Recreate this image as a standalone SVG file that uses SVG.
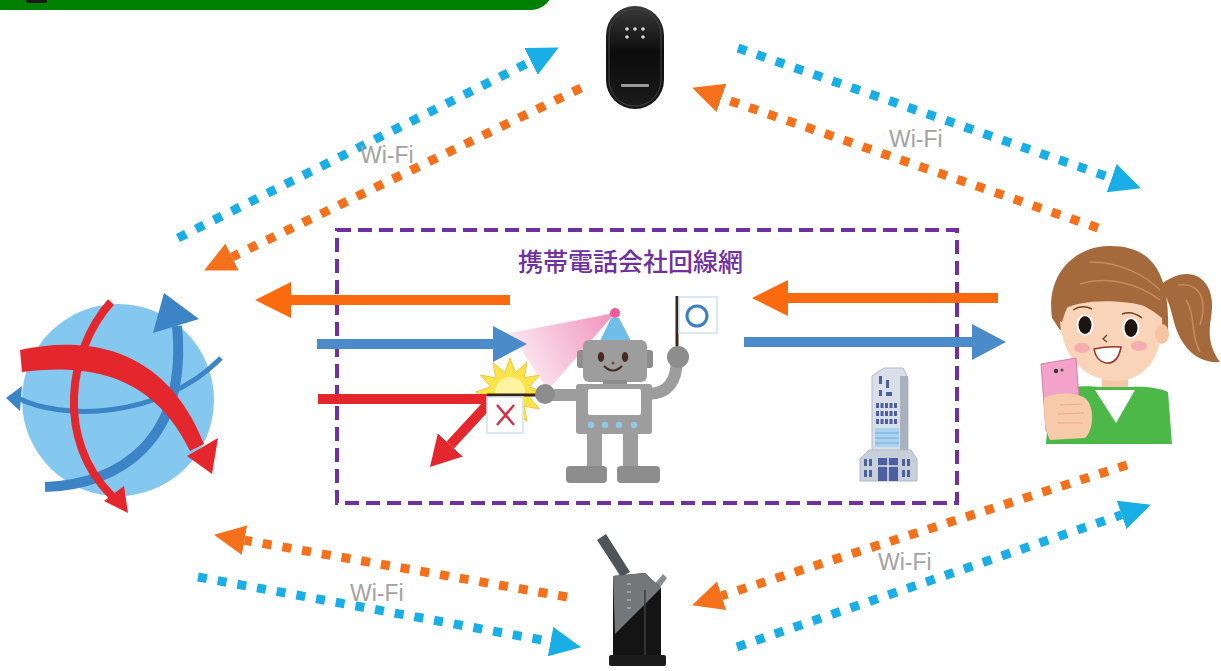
<svg xmlns="http://www.w3.org/2000/svg" width="1221" height="671" viewBox="0 0 1221 671">
<defs>
<style>
.dot-b{fill:none;stroke:#19aee6;stroke-width:9;stroke-dasharray:9 11}
.dot-o{fill:none;stroke:#f5701a;stroke-width:9;stroke-dasharray:9 11}
.wifi{font-family:"Liberation Sans",Arial,sans-serif;font-size:23px;fill:#a3a3a3}
.sol-o{fill:none;stroke:#fb6a0e;stroke-width:10}
.sol-b{fill:none;stroke:#4b8bca;stroke-width:10}
.sol-r{fill:none;stroke:#e4262d;stroke-width:10}
.title{font-family:"Noto Sans CJK JP","Noto Sans CJK SC",sans-serif;font-size:25px;font-weight:500;fill:#7030a0}
.bot{fill:#9d9d9d}
.bot-d{fill:#8d8d8d}
.win{fill:#4e5fa0}
</style>
<marker id="hb" markerUnits="userSpaceOnUse" viewBox="0 0 32 30" markerWidth="32" markerHeight="30" refX="0" refY="15" orient="auto"><path d="M0,0 L31,15 L0,30 z" fill="#19aee6"/></marker>
<marker id="ho" markerUnits="userSpaceOnUse" viewBox="0 0 32 30" markerWidth="32" markerHeight="30" refX="0" refY="15" orient="auto"><path d="M0,0 L31,15 L0,30 z" fill="#f5701a"/></marker>
<marker id="so" markerUnits="userSpaceOnUse" viewBox="0 0 36 36" markerWidth="36" markerHeight="36" refX="0" refY="18" orient="auto"><path d="M0,0 L36,18 L0,36 z" fill="#fb6a0e"/></marker>
<marker id="sb" markerUnits="userSpaceOnUse" viewBox="0 0 34 36" markerWidth="34" markerHeight="36" refX="0" refY="18" orient="auto"><path d="M0,0 L34,18 L0,36 z" fill="#4b8bca"/></marker>
<marker id="sr" markerUnits="userSpaceOnUse" viewBox="0 0 30 34" markerWidth="30" markerHeight="34" refX="0" refY="17" orient="auto"><path d="M0,0 L30,17 L0,34 z" fill="#e4262d"/></marker>
<linearGradient id="beam" x1="615" y1="313" x2="520" y2="360" gradientUnits="userSpaceOnUse">
<stop offset="0" stop-color="#ef86b4"/><stop offset="1" stop-color="#fbe3ee"/>
</linearGradient>
<linearGradient id="gloss" x1="0" y1="0" x2="0" y2="1">
<stop offset="0" stop-color="#3a3a3a"/><stop offset="0.45" stop-color="#0c0c0c"/><stop offset="1" stop-color="#1b1b1b"/>
</linearGradient>
</defs>
<rect width="1221" height="671" fill="#fff"/>

<!-- header band -->
<g id="header">
<rect x="-30" y="-40" width="583" height="50" rx="22" fill="#008000"/>
<rect x="26" y="-5" width="21" height="8" rx="2" fill="#1a1a1a"/>
</g>

<!-- carrier network frame -->
<g id="carrier-network">
<rect x="337" y="230" width="620" height="273" fill="none" stroke="#7030a0" stroke-width="4" stroke-dasharray="14 7"/>
<text class="title" x="518" y="271">携帯電話会社回線網</text>
</g>

<!-- internet globe -->
<g id="internet">
<circle cx="118" cy="400" r="96" fill="#85c8ef"/>
<path d="M45,487 C120,485 188,440 177,326" fill="none" stroke="#3c84c6" stroke-width="10"/>
<polygon points="164,293 153,333 199,319" fill="#3c84c6"/>
<path d="M18,398 C60,420 160,420 221,358" fill="none" stroke="#3c84c6" stroke-width="5"/>
<polygon points="6,398 22,386 20,411" fill="#3c84c6"/>
<path d="M20,350 C85,336 165,345 204,444 L190,451 C152,372 85,364 22,372 Z" fill="#e4262d"/>
<polygon points="212,474 187,456 218,438" fill="#e4262d"/>
<path d="M111,302 C68,350 55,440 112,496" fill="none" stroke="#e4262d" stroke-width="8"/>
<polygon points="128,513 104,501 124,486" fill="#e4262d"/>
</g>

<!-- pocket router -->
<g id="pocket-wifi">
<rect x="606" y="6" width="58" height="103" rx="29" fill="url(#gloss)"/>
<rect x="609" y="9" width="52" height="97" rx="26" fill="none" stroke="#444" stroke-width="1"/>
<g fill="#d8d8d8">
<circle cx="627" cy="29" r="1.8"/><circle cx="635" cy="29" r="1.8"/><circle cx="643" cy="29" r="1.8"/>
<circle cx="627" cy="37" r="1.8"/><circle cx="643" cy="37" r="1.8"/>
</g>
<rect x="621" y="84" width="28" height="3" rx="1" fill="#9a9a9a"/>
</g>

<!-- home router -->
<g id="home-router">
<polygon points="597,540 606,534 630,572 621,577" fill="#4f5458"/>
<polygon points="650,589 663,574 667,578 656,593" fill="#8a8d90"/>
<polygon points="613,576 645,573 661,588 661,657 613,657" fill="#141414"/>
<polygon points="613,576 645,573 661,588 615,634" fill="#74777a"/>
<line x1="645" y1="590" x2="645" y2="657" stroke="#3c3c3c" stroke-width="1.5"/>
<g stroke="#b8b8b8" stroke-width="1.2">
<line x1="627" y1="584" x2="631" y2="584"/><line x1="627" y1="592" x2="631" y2="592"/>
<line x1="627" y1="600" x2="631" y2="600"/><line x1="627" y1="608" x2="631" y2="608"/>
</g>
<rect x="609" y="655" width="57" height="11" rx="2" fill="#1c1c1c"/>
</g>

<!-- connectors -->
<g id="connectors">
<line class="dot-b" x1="178" y1="238" x2="531" y2="61.4" marker-end="url(#hb)"/>
<line class="dot-o" x1="581" y1="88" x2="232" y2="257" marker-end="url(#ho)"/>
<line class="dot-b" x1="738" y1="48" x2="1111.7" y2="178.1" marker-end="url(#hb)"/>
<line class="dot-o" x1="1098" y1="228" x2="721.4" y2="97.8" marker-end="url(#ho)"/>
<line class="dot-o" x1="567" y1="597" x2="244.5" y2="540.2" marker-end="url(#ho)"/>
<line class="dot-b" x1="198" y1="577" x2="550.5" y2="641.6" marker-end="url(#hb)"/>
<line class="dot-o" x1="1127" y1="465" x2="721.6" y2="595.8" marker-end="url(#ho)"/>
<line class="dot-b" x1="737" y1="647" x2="1121.6" y2="514.8" marker-end="url(#hb)"/>
</g>
<g id="labels">
<text class="wifi" x="360" y="163">Wi-Fi</text>
<text class="wifi" x="889" y="147">Wi-Fi</text>
<text class="wifi" x="350" y="601">Wi-Fi</text>
<text class="wifi" x="878" y="570">Wi-Fi</text>
</g>

<!-- filter robot -->
<g id="robot">
<polygon points="615,313 510,333 548,390" fill="url(#beam)" opacity="0.9"/>
<g id="network-arrows">
<line class="sol-o" x1="510" y1="300" x2="291" y2="300" marker-end="url(#so)"/>
<line class="sol-b" x1="317" y1="344" x2="493" y2="344" marker-end="url(#sb)"/>
<line class="sol-o" x1="998" y1="298" x2="788" y2="298" marker-end="url(#so)"/>
<line class="sol-b" x1="744" y1="342" x2="972" y2="342" marker-end="url(#sb)"/>
</g>
<polygon points="544,392 529.3,397.2 539.4,409 524.1,406.1 527,421.4 515.2,411.3 510,426 504.8,411.3 493,421.4 495.9,406.1 480.6,409 490.7,397.2 476,392 490.7,386.8 480.6,375 495.9,377.9 493,362.6 504.8,372.7 510,358 515.2,372.7 527,362.6 524.1,377.9 539.4,375 529.3,386.8" fill="#fbe44a" stroke="#f3c53a" stroke-width="1"/>
<circle cx="510" cy="392" r="15" fill="#fdf3a0"/>
<line class="sol-r" x1="318" y1="399" x2="492" y2="399"/>
<line class="sol-r" x1="490" y1="402" x2="450.3" y2="445" marker-end="url(#sr)"/>
<line x1="487" y1="395" x2="542" y2="395" stroke="#3a2418" stroke-width="3"/>
<rect x="487" y="397" width="36" height="36" fill="#fff" stroke="#cfe3ee" stroke-width="1.5"/>
<g stroke="#d03048" stroke-width="2.5"><line x1="497" y1="405" x2="514" y2="425"/><line x1="514" y1="405" x2="497" y2="425"/></g>
<circle cx="615" cy="313" r="5" fill="#ee5a9a"/>
<polygon points="611,318 619,318 631,341 600,341" fill="#6fbde9"/>
<rect x="577" y="350" width="9" height="18" rx="3" class="bot-d"/>
<rect x="644" y="350" width="9" height="18" rx="3" class="bot-d"/>
<rect x="583" y="340" width="64" height="42" rx="6" class="bot"/>
<ellipse cx="601" cy="357" rx="3.2" ry="5" fill="#4a2b20"/>
<ellipse cx="625" cy="357" rx="3.2" ry="5" fill="#4a2b20"/>
<circle cx="613" cy="363" r="1.5" fill="#6a4a40"/>
<path d="M604,366 Q613,375 622,366" fill="none" stroke="#4a2b20" stroke-width="2"/>
<rect x="603" y="380" width="24" height="6" class="bot-d"/>
<rect x="587" y="432" width="15" height="37" class="bot"/>
<rect x="623" y="432" width="15" height="37" class="bot"/>
<rect x="566" y="466" width="41" height="17" rx="4" class="bot-d"/>
<rect x="617" y="466" width="43" height="17" rx="4" class="bot-d"/>
<rect x="576" y="384" width="76" height="50" rx="3" class="bot"/>
<rect x="588" y="389" width="53" height="26" rx="2" fill="#fff"/>
<g fill="#8fc8e8"><circle cx="591" cy="425" r="3.2"/><circle cx="605" cy="425" r="3.2"/><circle cx="619" cy="425" r="3.2"/><circle cx="634" cy="425" r="3.2"/></g>
<line x1="545" y1="395" x2="580" y2="395" stroke="#9d9d9d" stroke-width="12"/>
<circle cx="545" cy="394" r="10" class="bot-d"/>
<path d="M648,394 Q677,394 677,358" fill="none" stroke="#9d9d9d" stroke-width="12"/>
<line x1="677" y1="296" x2="677" y2="352" stroke="#3a2418" stroke-width="3"/>
<rect x="679" y="297" width="38" height="36" fill="#fff" stroke="#cfe3ee" stroke-width="1.5"/>
<circle cx="697" cy="316" r="10" fill="none" stroke="#3a80c4" stroke-width="3"/>
<circle cx="678" cy="357" r="11" class="bot-d"/>
</g>

<!-- carrier office building -->
<g id="building">
<polygon points="872,452 872,376 884,368 903,368 908,378 908,452" fill="#d9dfe8" stroke="#b3bccb" stroke-width="1"/>
<rect x="900" y="376" width="8" height="76" fill="#a9b1bd"/>
<g class="win">
<rect x="879" y="376" width="3" height="8"/><rect x="886" y="380" width="3" height="8"/><rect x="879" y="390" width="3" height="6"/><rect x="886" y="392" width="6" height="4"/>
<rect x="876" y="403" width="3" height="5"/><rect x="880.5" y="403" width="3" height="5"/><rect x="885" y="403" width="3" height="5"/><rect x="889.5" y="403" width="3" height="5"/><rect x="894" y="403" width="3" height="5"/>
<rect x="876" y="411" width="3" height="5"/><rect x="880.5" y="411" width="3" height="5"/><rect x="885" y="411" width="3" height="5"/><rect x="889.5" y="411" width="3" height="5"/><rect x="894" y="411" width="3" height="5"/>
<rect x="876" y="419" width="3" height="5"/><rect x="880.5" y="419" width="3" height="5"/><rect x="885" y="419" width="3" height="5"/><rect x="889.5" y="419" width="3" height="5"/><rect x="894" y="419" width="3" height="5"/>
</g>
<rect x="875" y="428" width="24" height="19" fill="#a8d2f0"/>
<g stroke="#6d9fd0" stroke-width="0.8"><line x1="875" y1="433" x2="899" y2="433"/><line x1="875" y1="438" x2="899" y2="438"/><line x1="875" y1="443" x2="899" y2="443"/></g>
<polygon points="860,481 860,459 869,450 911,450 917,459 917,481" fill="#c7cfda" stroke="#b0b9c6" stroke-width="1"/>
<g class="win">
<rect x="864" y="459" width="3" height="7"/><rect x="869" y="459" width="3" height="7"/><rect x="864" y="470" width="3" height="7"/><rect x="869" y="470" width="3" height="7"/>
<rect x="902" y="459" width="3" height="7"/><rect x="907" y="459" width="3" height="7"/><rect x="902" y="470" width="3" height="7"/><rect x="907" y="470" width="3" height="7"/>
<rect x="878" y="458" width="20" height="23"/>
</g>
<g stroke="#fff" stroke-width="1.2"><line x1="888" y1="458" x2="888" y2="481"/><line x1="878" y1="466" x2="898" y2="466"/></g>
</g>

<!-- user with smartphone -->
<g id="user">
<path d="M1163,283 C1192,262 1218,280 1211,318 C1207,340 1213,352 1220,362 C1196,364 1180,345 1174,322 C1170,305 1166,296 1163,290 Z" fill="#a46a3c"/>
<path d="M1178,285 C1200,282 1208,300 1200,325 M1186,300 C1196,315 1190,335 1200,352" fill="none" stroke="#c58b5a" stroke-width="1.5"/>
<path d="M1052,318 C1045,270 1080,245 1110,246 C1150,246 1170,270 1168,330 L1060,330 Z" fill="#a46a3c"/>
<rect x="1102" y="370" width="26" height="24" fill="#f6c7a6"/>
<path d="M1050,392 C1070,385 1090,386 1100,387 L1130,387 C1145,386 1160,388 1168,392 L1172,444 L1046,444 Z" fill="#4cb848"/>
<polygon points="1095,390 1135,390 1116,423" fill="#fff"/>
<path d="M1060,312 C1058,350 1080,380 1115,381 C1150,381 1164,350 1162,315 C1150,300 1080,295 1060,312 Z" fill="#fad4b8"/>
<ellipse cx="1162" cy="334" rx="7" ry="10" fill="#f6c4a2"/>
<path d="M1056,320 C1058,285 1078,258 1108,252 C1140,248 1164,268 1165,300 L1162,318 C1140,300 1110,290 1080,282 C1072,295 1066,308 1062,322 Z" fill="#a46a3c"/>
<path d="M1080,284 C1110,275 1140,285 1160,300 M1090,262 C1120,262 1145,275 1160,290" fill="none" stroke="#c58b5a" stroke-width="1.5"/>
<ellipse cx="1082" cy="348" rx="8" ry="5" fill="#f5aeb0"/>
<ellipse cx="1139" cy="346" rx="8" ry="5" fill="#f5aeb0"/>
<ellipse cx="1085" cy="325" rx="8.5" ry="10.5" fill="#fff"/>
<ellipse cx="1085" cy="325" rx="6.5" ry="9" fill="#1b1410"/>
<ellipse cx="1131" cy="328" rx="8.5" ry="10.5" fill="#fff"/>
<ellipse cx="1131" cy="328" rx="6.5" ry="9" fill="#1b1410"/>
<path d="M1073,310 Q1082,304 1092,309 M1122,314 Q1132,310 1142,318" fill="none" stroke="#6b4226" stroke-width="1.5"/>
<path d="M1107,335 L1103,339 L1107,342" fill="none" stroke="#6b4226" stroke-width="1.3"/>
<path d="M1094,349 Q1108,346 1121,347 Q1118,364 1106,363 Q1096,361 1094,349 Z" fill="#fff" stroke="#a0302c" stroke-width="1.5"/>
<polygon points="1041,364 1076,358 1081,426 1046,431" fill="#f3a3c9" stroke="#d77fa9" stroke-width="1"/>
<circle cx="1056" cy="371" r="2.2" fill="#333"/><circle cx="1062" cy="370" r="1.6" fill="#555"/>
<path d="M1044,398 C1055,392 1075,392 1085,398 C1095,406 1094,430 1085,438 L1050,440 C1044,430 1044,410 1044,398 Z" fill="#f7caa9"/>
<path d="M1060,405 L1082,404 M1058,414 L1084,413 M1058,423 L1083,423" fill="none" stroke="#e9ab86" stroke-width="1.2"/>
</g>
</svg>
